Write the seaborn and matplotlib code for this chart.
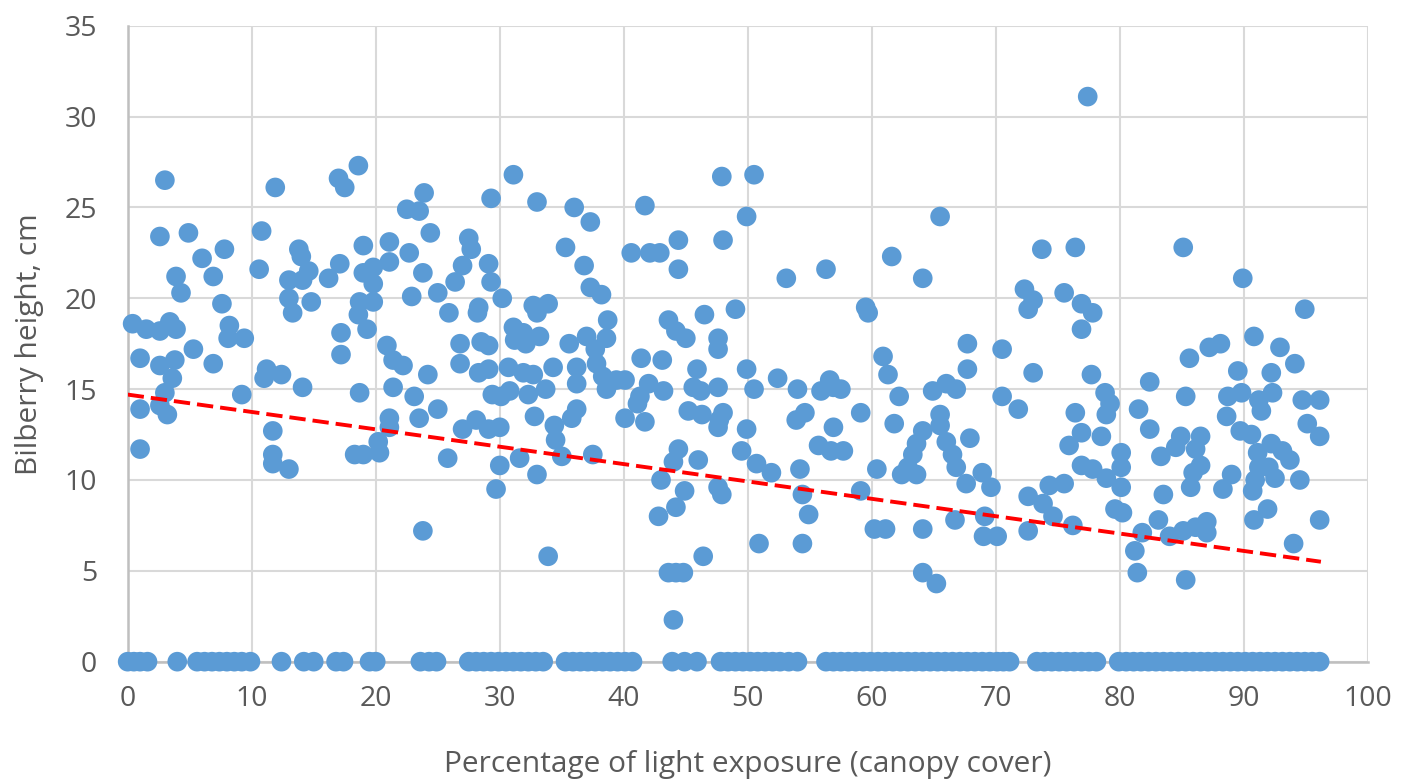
import pandas as pd
import seaborn as sns
import matplotlib.pyplot as plt

# bilberry height (cm) against light exposure (%)
# plants with no measurable height sit on the zero line
zero_x = [
    0.0, 0.5, 1.0, 1.6, 4.0, 5.6, 6.2, 6.8, 7.4, 8.0, 8.6, 9.2, 9.9,
    12.4, 14.2, 15.0, 16.8, 17.4, 19.5, 20.0, 23.6, 24.3, 24.9,
    27.5, 28.1, 28.7, 29.3, 29.9, 30.5, 31.1, 31.7, 32.3, 32.9, 33.5,
    35.3, 35.9, 36.5, 37.1, 37.7, 38.3, 38.9, 39.5, 40.1, 40.7,
    43.9, 44.9, 45.9,
    47.8, 48.4, 49.0, 49.6, 50.2, 50.8, 51.4, 52.0, 52.6, 53.3, 54.0,
    56.3, 56.9, 57.5, 58.1, 58.7, 59.3, 59.9, 60.5, 61.1, 61.7, 62.3, 62.9,
    63.5, 64.1, 64.7, 65.3, 65.9, 66.5, 67.1, 67.7, 68.3, 68.9, 69.5, 70.1,
    70.6, 71.1,
    73.3, 73.9, 74.5, 75.1, 75.7, 76.3, 76.9, 77.5, 78.1,
    79.9, 80.5, 81.1, 81.7, 82.3, 82.9, 83.5, 84.1, 84.7, 85.3, 85.9, 86.5,
    87.1, 87.7, 88.3, 88.9, 89.5, 90.1, 90.7, 91.3, 91.9, 92.5, 93.1, 93.7,
    94.3, 94.9, 95.5, 96.1,
]

pts_0_25 = [
    (3.0, 26.5), (11.9, 26.1), (18.6, 27.3), (17.0, 26.6), (17.5, 26.1), (23.9, 25.8),
    (22.5, 24.9), (23.5, 24.8), (24.4, 23.6), (2.6, 23.4), (4.9, 23.6), (10.8, 23.7),
    (13.8, 22.7), (14.0, 22.3), (19.0, 22.9), (21.1, 23.1), (22.7, 22.5), (6.0, 22.2),
    (7.8, 22.7), (3.9, 21.2), (4.3, 20.3), (6.9, 21.2), (10.6, 21.6), (13.0, 21.0),
    (14.1, 21.0), (14.6, 21.5), (16.2, 21.1), (17.1, 21.9), (19.0, 21.4), (19.8, 21.7),
    (19.8, 20.8), (21.1, 22.0), (23.8, 21.4), (22.9, 20.1), (25.0, 20.3), (7.6, 19.7),
    (13.0, 20.0), (13.3, 19.2), (14.8, 19.8), (18.7, 19.8), (19.8, 19.8), (18.6, 19.1),
    (19.3, 18.3), (0.4, 18.6), (1.5, 18.3), (2.6, 18.2), (3.4, 18.7), (3.9, 18.3),
    (8.2, 18.5), (8.1, 17.8), (9.4, 17.8), (17.2, 18.1), (17.2, 16.9), (20.9, 17.4),
    (21.4, 16.6), (22.2, 16.3), (24.2, 15.8), (1.0, 16.7), (2.6, 16.3), (3.8, 16.6),
    (3.6, 15.6), (5.3, 17.2), (6.9, 16.4), (11.2, 16.1), (12.4, 15.8), (11.0, 15.6),
    (14.1, 15.1), (18.7, 14.8), (21.4, 15.1), (3.0, 14.8), (9.2, 14.7), (23.1, 14.6),
    (1.0, 13.9), (2.6, 14.1), (3.2, 13.6), (1.0, 11.7), (11.7, 12.7), (11.7, 11.4),
    (11.7, 10.9), (13.0, 10.6), (18.3, 11.4), (19.0, 11.4), (23.5, 13.4), (21.1, 13.4),
    (21.1, 12.9), (20.2, 12.1), (20.3, 11.5), (23.8, 7.2),
]

pts_25_50 = [
    (31.1, 26.8), (29.3, 25.5), (33.0, 25.3), (36.0, 25.0), (37.3, 24.2), (41.7, 25.1),
    (47.9, 26.7), (49.9, 24.5), (48.0, 23.2), (44.4, 23.2), (40.6, 22.5), (42.1, 22.5),
    (42.9, 22.5), (44.4, 21.6), (35.3, 22.8), (36.8, 21.8), (37.3, 20.6), (38.2, 20.2),
    (27.5, 23.3), (27.7, 22.7), (27.0, 21.8), (29.1, 21.9), (29.3, 20.9), (26.4, 20.9),
    (30.2, 20.0), (25.9, 19.2), (28.3, 19.5), (28.2, 19.2), (32.7, 19.6), (33.9, 19.7),
    (33.0, 19.2), (38.7, 18.8), (31.1, 18.4), (31.9, 18.1), (33.2, 17.9), (31.2, 17.7),
    (32.1, 17.5), (26.8, 17.5), (28.5, 17.6), (29.1, 17.4), (26.8, 16.4), (35.6, 17.5),
    (37.0, 17.9), (38.6, 17.8), (37.7, 17.2), (37.8, 16.4), (36.2, 16.2), (36.2, 15.3),
    (38.3, 15.7), (39.4, 15.5), (40.1, 15.5), (38.6, 15.0), (34.3, 16.2), (28.3, 15.9),
    (29.1, 16.1), (30.7, 16.2), (31.9, 15.9), (32.7, 15.8), (29.4, 14.7), (30.1, 14.6),
    (30.8, 14.9), (32.3, 14.7), (33.7, 15.0), (41.4, 16.7), (43.1, 16.6), (43.6, 18.8),
    (44.2, 18.2), (45.0, 17.8), (46.5, 19.1), (47.6, 17.8), (47.6, 17.2), (49.0, 19.4),
    (49.9, 16.1), (45.9, 16.1), (45.6, 15.1), (46.2, 14.9), (42.0, 15.3), (43.2, 14.9),
    (47.6, 15.1), (41.3, 14.6),
    (25.0, 13.9), (27.0, 12.8), (28.1, 13.3), (29.1, 12.8), (30.0, 12.9), (32.8, 13.5),
    (34.4, 13.0), (34.5, 12.2), (35.8, 13.4), (36.2, 13.9), (35.0, 11.3), (37.5, 11.4),
    (25.8, 11.2), (30.0, 10.8), (29.7, 9.5), (31.6, 11.2), (33.0, 10.3), (33.9, 5.8),
    (40.1, 13.4), (41.1, 14.2), (41.7, 13.2), (45.2, 13.8), (46.3, 13.6), (47.7, 13.3),
    (48.0, 13.7), (47.6, 12.9), (49.9, 12.8), (49.5, 11.6), (44.4, 11.7), (44.0, 11.0),
    (43.0, 10.0), (46.0, 11.1), (44.9, 9.4), (44.2, 8.5), (42.8, 8.0), (47.6, 9.6),
    (47.9, 9.2), (46.4, 5.8), (43.6, 4.9), (44.2, 4.9), (44.8, 4.9), (44.0, 2.3),
]

pts_50_75 = [
    (50.5, 26.8), (50.5, 15.0), (50.7, 10.9), (50.9, 6.5),
    (53.1, 21.1), (56.3, 21.6), (65.5, 24.5), (61.6, 22.3), (64.1, 21.1), (59.5, 19.5),
    (59.7, 19.2), (73.7, 22.7), (72.3, 20.5), (73.0, 19.9), (72.6, 19.4), (67.7, 17.5),
    (67.7, 16.1), (70.5, 17.2), (73.0, 15.9), (60.9, 16.8), (61.3, 15.8), (52.4, 15.6),
    (54.0, 15.0), (56.6, 15.5), (55.9, 14.9), (57.5, 15.0), (56.9, 15.1), (62.2, 14.6),
    (64.9, 14.9), (66.0, 15.3), (66.8, 15.0), (70.5, 14.6),
    (53.9, 13.3), (54.6, 13.7), (59.1, 13.7), (56.9, 12.9), (55.7, 11.9), (56.7, 11.6),
    (57.7, 11.6), (51.9, 10.4), (54.2, 10.6), (54.4, 9.2), (54.9, 8.1), (54.4, 6.5),
    (59.1, 9.4), (60.4, 10.6), (60.2, 7.3), (61.1, 7.3), (61.8, 13.1), (65.5, 13.6),
    (65.5, 13.0), (64.1, 12.7), (63.6, 12.0), (63.3, 11.4), (62.9, 10.7), (62.4, 10.3),
    (63.6, 10.3), (66.0, 12.1), (66.5, 11.4), (66.8, 10.7), (67.6, 9.8), (67.9, 12.3),
    (68.9, 10.4), (69.6, 9.6), (64.1, 7.3), (66.7, 7.8), (69.1, 8.0), (69.0, 6.9),
    (70.1, 6.9), (64.1, 4.9), (65.2, 4.3), (71.8, 13.9), (72.6, 9.1), (74.3, 9.7),
    (73.8, 8.7), (74.6, 8.0), (72.6, 7.2),
]

pts_75_100 = [
    (77.4, 31.1), (76.4, 22.8), (85.1, 22.8), (89.9, 21.1), (75.5, 20.3), (76.9, 19.7),
    (77.8, 19.2), (76.9, 18.3), (94.9, 19.4), (90.8, 17.9), (87.2, 17.3), (88.1, 17.5),
    (85.6, 16.7), (92.9, 17.3), (94.1, 16.4), (77.7, 15.8), (82.4, 15.4), (89.5, 16.0),
    (92.2, 15.9),
    (78.8, 14.8), (79.2, 14.2), (78.9, 13.6), (76.4, 13.7), (76.9, 12.6), (75.9, 11.9),
    (78.5, 12.4), (76.9, 10.8), (77.8, 10.6), (75.5, 9.8), (80.1, 11.5), (80.1, 10.7),
    (78.9, 10.1), (80.1, 9.6), (79.6, 8.4), (80.2, 8.2), (76.2, 7.5), (81.5, 13.9),
    (82.4, 12.8), (85.3, 14.6), (83.3, 11.3), (84.5, 11.8), (84.9, 12.4), (86.1, 11.7),
    (86.5, 12.4), (86.5, 10.8), (85.9, 10.4), (85.7, 9.6), (83.5, 9.2), (83.1, 7.8),
    (81.8, 7.1), (81.2, 6.1), (81.4, 4.9), (85.3, 4.5), (84.0, 6.9), (85.1, 7.2),
    (86.1, 7.4), (87.0, 7.7), (87.0, 7.1), (88.6, 13.5), (88.7, 14.6), (89.8, 14.8),
    (89.7, 12.7), (90.6, 12.5), (89.0, 10.3), (88.3, 9.5), (91.2, 14.4), (91.4, 13.8),
    (92.3, 14.8), (91.1, 11.5), (91.2, 10.7), (90.9, 10.0), (90.7, 9.4), (92.0, 10.7),
    (92.5, 10.1), (92.2, 12.0), (93.1, 11.6), (93.7, 11.1), (94.5, 10.0), (90.8, 7.8),
    (91.9, 8.4), (94.0, 6.5), (96.1, 7.8), (94.7, 14.4), (96.1, 14.4), (95.1, 13.1),
    (96.1, 12.4),
]

# linear trend line as drawn in the chart
trend_x = [0.0, 96.2]
trend_y = [14.7, 5.5]

pairs = pts_0_25 + pts_25_50 + pts_50_75 + pts_75_100
df = pd.DataFrame(pairs, columns=["light", "height"])
df = pd.concat([df, pd.DataFrame({"light": zero_x, "height": 0.0})], ignore_index=True)
df_trend = pd.DataFrame({"light": trend_x, "height": trend_y})

sns.set_theme(style="whitegrid")
plt.rcParams["font.family"] = ["Open Sans", "DejaVu Sans"]

fig = plt.figure(figsize=(14.06, 7.8), dpi=100)
ax = fig.add_axes([0.0908, 0.1517, 0.8822, 0.8153])

sns.scatterplot(
    data=df, x="light", y="height", ax=ax, s=200, color="#5B9BD5",
    edgecolor="none", linewidth=0, zorder=3, clip_on=False, legend=False,
)
sns.lineplot(
    data=df_trend, x="light", y="height", ax=ax, color="#FF0000",
    linewidth=2.8, linestyle=(0, (4.2, 1.8)), zorder=4,
)

ax.set_xlim(0, 100)
ax.set_ylim(0, 35)
ax.set_xticks(range(0, 101, 10))
ax.set_yticks(range(0, 36, 5))
ax.grid(True, color="#D9D9D9", linewidth=1.5)
ax.set_axisbelow(True)
for side in ["top", "right"]:
    ax.spines[side].set_visible(False)
for side in ["left", "bottom"]:
    ax.spines[side].set_color("#BFBFBF")
    ax.spines[side].set_linewidth(1.8)
ax.tick_params(axis="both", length=0, labelsize=20.5, labelcolor="#595959")
ax.tick_params(axis="x", pad=17)
ax.tick_params(axis="y", pad=22)

ax.set_xlabel("Percentage of light exposure (canopy cover)", fontsize=21.5, color="#595959")
ax.set_ylabel("Bilberry height, cm", fontsize=21.5, color="#595959")
ax.xaxis.label.set_va("center")
ax.yaxis.label.set_va("center")
ax.xaxis.set_label_coords(0.5, -0.162)
ax.yaxis.set_label_coords(-0.079, 0.5)

plt.savefig("out.png", dpi=100)
